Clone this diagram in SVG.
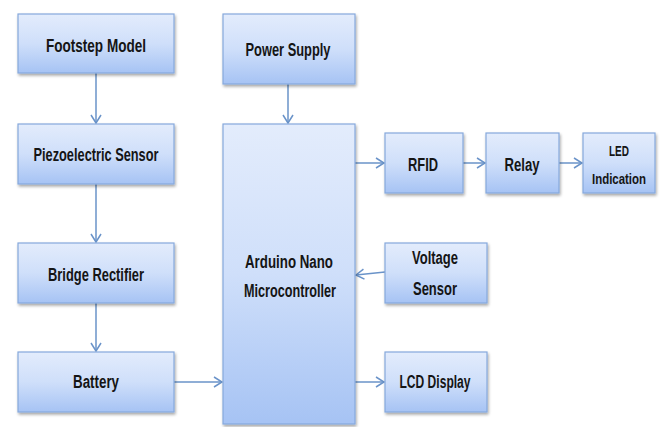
<svg xmlns="http://www.w3.org/2000/svg" width="664" height="427" viewBox="0 0 664 427">
<defs>
<linearGradient id="g" x1="0" y1="0" x2="0" y2="1">
<stop offset="0" stop-color="#e3ecfc"/>
<stop offset="0.5" stop-color="#cfdffa"/>
<stop offset="1" stop-color="#a6c3f4"/>
</linearGradient>
<filter id="sh" x="-10%" y="-10%" width="120%" height="130%">
<feGaussianBlur in="SourceAlpha" stdDeviation="1.5"/>
<feOffset dx="1" dy="2" result="b"/>
<feComponentTransfer><feFuncA type="linear" slope="0.35"/></feComponentTransfer>
<feMerge><feMergeNode/><feMergeNode in="SourceGraphic"/></feMerge>
</filter>
<marker id="ah" markerWidth="12" markerHeight="12" refX="10" refY="6" orient="auto" markerUnits="userSpaceOnUse">
<path d="M2,1 L10,6 L2,11" fill="none" stroke="#6a93c9" stroke-width="1.5"/>
</marker>
</defs>
<style>
.box{fill:url(#g);stroke:#86a9dc;stroke-width:1.2;filter:url(#sh)}
.t{font-family:"Liberation Sans",Arial,sans-serif;font-weight:bold;font-size:18px;fill:#151515;text-anchor:middle}
.s{font-size:15px}
.c{stroke:#6a93c9;stroke-width:1.5;fill:none;marker-end:url(#ah)}
</style>
<rect width="664" height="427" fill="#fff"/>
<g id="connectors">
<line class="c" x1="96" y1="73" x2="96" y2="123"/>
<line class="c" x1="96" y1="184" x2="96" y2="242"/>
<line class="c" x1="96" y1="303" x2="96" y2="351"/>
<line class="c" x1="174" y1="382" x2="222" y2="382"/>
<line class="c" x1="288" y1="84" x2="288" y2="123"/>
<line class="c" x1="355" y1="163" x2="384" y2="163"/>
<line class="c" x1="463" y1="163" x2="485" y2="163"/>
<line class="c" x1="559" y1="163" x2="582" y2="163"/>
<line class="c" x1="385" y1="272" x2="356" y2="275"/>
<line class="c" x1="355" y1="382" x2="384" y2="382"/>
</g>
<g id="footstep"><rect class="box" x="18" y="14" width="156" height="59"/><text class="t" x="96" y="52" textLength="100" lengthAdjust="spacingAndGlyphs">Footstep Model</text></g>
<g id="piezo"><rect class="box" x="18" y="124" width="156" height="60"/><text class="t" x="96" y="161" textLength="125" lengthAdjust="spacingAndGlyphs">Piezoelectric Sensor</text></g>
<g id="bridge"><rect class="box" x="18" y="243" width="156" height="60"/><text class="t" x="96" y="281" textLength="96" lengthAdjust="spacingAndGlyphs">Bridge Rectifier</text></g>
<g id="battery"><rect class="box" x="18" y="352" width="156" height="60"/><text class="t" x="96" y="388" textLength="46" lengthAdjust="spacingAndGlyphs">Battery</text></g>
<g id="power"><rect class="box" x="223" y="14" width="132" height="70"/><text class="t" x="288" y="56" textLength="85" lengthAdjust="spacingAndGlyphs">Power Supply</text></g>
<g id="arduino"><rect class="box" x="223" y="124" width="132" height="300"/><text class="t" x="289" y="268" textLength="88" lengthAdjust="spacingAndGlyphs">Arduino Nano</text><text class="t" x="290" y="297" textLength="92" lengthAdjust="spacingAndGlyphs">Microcontroller</text></g>
<g id="rfid"><rect class="box" x="385" y="133" width="78" height="60"/><text class="t" x="423" y="171" textLength="30" lengthAdjust="spacingAndGlyphs">RFID</text></g>
<g id="relay"><rect class="box" x="486" y="133" width="73" height="60"/><text class="t" x="522" y="171" textLength="35" lengthAdjust="spacingAndGlyphs">Relay</text></g>
<g id="led"><rect class="box" x="583" y="133" width="72" height="60"/><text class="t s" x="619" y="156" textLength="20" lengthAdjust="spacingAndGlyphs">LED</text><text class="t s" x="619" y="184" textLength="54" lengthAdjust="spacingAndGlyphs">Indication</text></g>
<g id="voltage"><rect class="box" x="385" y="243" width="102" height="60"/><text class="t" x="435" y="264" textLength="46" lengthAdjust="spacingAndGlyphs">Voltage</text><text class="t" x="435" y="295" textLength="44" lengthAdjust="spacingAndGlyphs">Sensor</text></g>
<g id="lcd"><rect class="box" x="385" y="352" width="102" height="60"/><text class="t" x="435" y="388" textLength="71" lengthAdjust="spacingAndGlyphs">LCD Display</text></g>
</svg>
